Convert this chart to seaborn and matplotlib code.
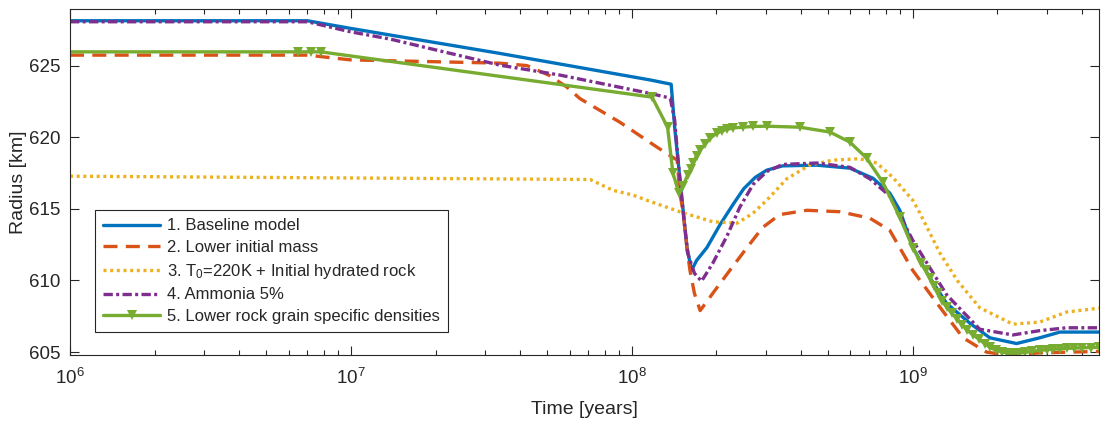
import numpy as np
import matplotlib.pyplot as plt
import seaborn as sns

# Radius evolution for five model runs (time in years, radius in km)
t_base = [1e6, 7.0e6, 9.95e6, 3.39e7, 1.16e8, 1.38e8, 1.42e8, 1.50e8, 1.57e8, 1.63e8,
          1.70e8, 1.85e8, 2.06e8, 2.29e8, 2.50e8, 2.75e8, 3.02e8, 3.44e8, 4.55e8, 5.97e8,
          7.21e8, 8.28e8, 8.99e8, 1.0e9, 1.15e9, 1.32e9, 1.60e9, 1.88e9, 2.34e9, 2.83e9,
          3.34e9, 4.6e9]
r_base = [628.13, 628.13, 627.6, 625.85, 624.0, 623.7, 620.7, 616.1, 612.35, 610.7,
          611.4, 612.3, 613.9, 615.3, 616.4, 617.2, 617.7, 618.0, 618.05, 617.84,
          617.14, 616.1, 614.9, 612.3, 610.2, 608.4, 607.0, 606.0, 605.6, 606.0,
          606.4, 606.4]

t_mass = [1e6, 7.0e6, 9.95e6, 3.39e7, 4.23e7, 5.1e7, 5.87e7, 6.53e7, 9.06e7, 1.23e8,
          1.45e8, 1.48e8, 1.52e8, 1.57e8, 1.61e8, 1.67e8, 1.75e8, 1.94e8, 2.23e8, 2.57e8,
          2.92e8, 3.36e8, 4.2e8, 5.5e8, 7.03e8, 8.28e8, 1.0e9, 1.22e9, 1.51e9, 1.83e9,
          2.16e9, 2.83e9, 4.6e9]
r_mass = [625.73, 625.73, 625.4, 625.17, 625.0, 624.3, 623.5, 622.7, 621.05, 619.3,
          618.4, 616.1, 614.9, 612.3, 610.7, 609.1, 607.9, 609.1, 610.7, 612.3,
          613.7, 614.6, 614.9, 614.8, 614.35, 613.5, 610.7, 608.4, 606.0, 605.0,
          604.8, 604.95, 605.05]

t_t0 = [1e6, 7.1e7, 8.55e7, 1.01e8, 1.13e8, 1.48e8, 1.94e8, 2.37e8, 2.70e8, 3.02e8,
        3.56e8, 4.29e8, 5.19e8, 6.47e8, 7.44e8, 8.49e8, 1.0e9, 1.06e9, 1.25e9, 1.44e9,
        1.73e9, 2.27e9, 2.83e9, 3.53e9, 4.6e9]
r_t0 = [617.28, 617.05, 616.3, 615.96, 615.6, 614.8, 614.1, 614.0, 614.7, 615.6,
        617.1, 618.05, 618.4, 618.5, 618.2, 617.2, 615.6, 614.7, 611.9, 610.0,
        608.1, 606.95, 607.1, 607.8, 608.07]

t_nh3 = [1e6, 7.0e6, 9.95e6, 1.38e7, 3.39e7, 5.54e7, 1.16e8, 1.37e8, 1.42e8, 1.46e8,
         1.52e8, 1.58e8, 1.67e8, 1.77e8, 1.94e8, 2.18e8, 2.42e8, 2.70e8, 3.02e8, 3.44e8,
         4.55e8, 5.97e8, 7.03e8, 8.28e8, 1.0e9, 1.32e9, 1.73e9, 2.27e9, 2.83e9, 3.53e9,
         4.6e9]
r_nh3 = [628.06, 628.06, 627.36, 626.85, 625.03, 624.34, 623.06, 622.73, 621.2, 618.4,
         614.9, 611.9, 610.5, 609.95, 611.2, 613.1, 615.1, 616.7, 617.6, 618.1,
         618.2, 617.9, 617.1, 615.9, 612.8, 609.0, 606.6, 606.2, 606.5, 606.7,
         606.7]

t_rock = [1e6, 6.5e6, 7.2e6, 7.8e6, 1.18e8, 1.34e8, 1.40e8, 1.47e8, 1.52e8, 1.58e8,
          1.62e8, 1.65e8, 1.70e8, 1.75e8, 1.82e8, 1.90e8, 2.01e8, 2.10e8, 2.18e8, 2.30e8,
          2.48e8, 2.70e8, 3.02e8, 3.96e8, 5.07e8, 5.97e8, 6.85e8, 7.82e8, 8.99e8, 1.0e9,
          1.07e9, 1.11e9, 1.15e9, 1.19e9, 1.23e9, 1.27e9, 1.32e9, 1.38e9, 1.44e9, 1.50e9,
          1.56e9, 1.64e9, 1.72e9, 1.80e9, 1.88e9, 1.97e9, 2.07e9, 2.17e9, 2.27e9, 2.38e9,
          2.50e9, 2.65e9, 2.83e9, 3.00e9, 3.15e9, 3.33e9, 3.53e9, 3.75e9, 4.0e9, 4.3e9,
          4.6e9]
r_rock = [625.96, 625.96, 625.96, 625.96, 622.8, 620.7, 617.5, 616.1, 616.6, 617.35,
          617.8, 618.2, 618.7, 619.1, 619.5, 619.94, 620.29, 620.45, 620.55, 620.65,
          620.7, 620.75, 620.77, 620.7, 620.36, 619.66, 618.54, 616.86, 614.42, 612.3,
          611.2, 610.7, 610.2, 609.6, 609.1, 608.6, 608.14, 607.7, 607.3, 606.9,
          606.53, 606.2, 605.9, 605.6, 605.34, 605.15, 605.02, 604.95, 604.92, 604.93,
          604.98, 605.05, 605.12, 605.17, 605.2, 605.23, 605.27, 605.28, 605.3, 605.32,
          605.34]

labels = ["1. Baseline model",
          "2. Lower initial mass",
          "3. T$_0$=220K + Initial hydrated rock",
          "4. Ammonia 5%",
          "5. Lower rock grain specific densities"]
colors = ["#0072BD", "#D95319", "#EDB120", "#7E2F8E", "#77AC30"]

sns.set_style("ticks")
plt.rcParams['font.family'] = ['Liberation Sans', 'DejaVu Sans']
plt.rcParams['mathtext.fontset'] = 'custom'
plt.rcParams['mathtext.rm'] = 'Liberation Sans'
plt.rcParams['mathtext.it'] = 'Liberation Sans:italic'
plt.rcParams['mathtext.bf'] = 'Liberation Sans:bold'

TXT = '#262626'

fig = plt.figure(figsize=(11.06, 4.21), dpi=100)
ax = fig.add_axes([70 / 1106, 66 / 421, 1029 / 1106, 346 / 421])

styles = ['-', (0, (4.2, 2.5)), (0, (0.9, 1.1)), (0, (2.8, 1.0, 0.9, 1.0)), '-']
data = [(t_base, r_base), (t_mass, r_mass), (t_t0, r_t0), (t_nh3, r_nh3), (t_rock, r_rock)]

for i, (t, r) in enumerate(data):
    kw = {}
    if i == 4:
        kw = dict(marker='v', markersize=7.5, markeredgewidth=0,
                  markevery=list(range(1, len(t))))
    sns.lineplot(x=t, y=r, ax=ax, color=colors[i], linestyle=styles[i],
                 linewidth=2.4, label=labels[i], **kw)

ax.set_xscale('log')
ax.set_xlim(1e6, 4.6e9)
ax.set_ylim(604.8, 628.95)
ax.set_yticks([605, 610, 615, 620, 625])

ax.tick_params(which='both', direction='in', top=True, right=True,
               colors=TXT, labelcolor=TXT, width=0.8, labelsize=13.5)
ax.tick_params(which='major', length=6.5)
ax.tick_params(which='minor', length=3.5)
ax.tick_params(axis='x', pad=9)
ax.tick_params(axis='y', pad=7)
for sp in ax.spines.values():
    sp.set_color(TXT)
    sp.set_linewidth(0.8)

ax.set_xlabel('Time [years]', fontsize=14, color=TXT, labelpad=10)
ax.set_ylabel('Radius [km]', fontsize=14, color=TXT, labelpad=1)

leg = ax.legend(loc='upper left', bbox_to_anchor=(0.0243, 0.419), borderaxespad=0,
                fontsize=12, frameon=True, fancybox=False, edgecolor=TXT, framealpha=1,
                handlelength=3.4, handletextpad=0.4, labelspacing=0.4, borderpad=0.5)
leg.get_frame().set_linewidth(0.8)

fig.savefig('out.png', dpi=100)
